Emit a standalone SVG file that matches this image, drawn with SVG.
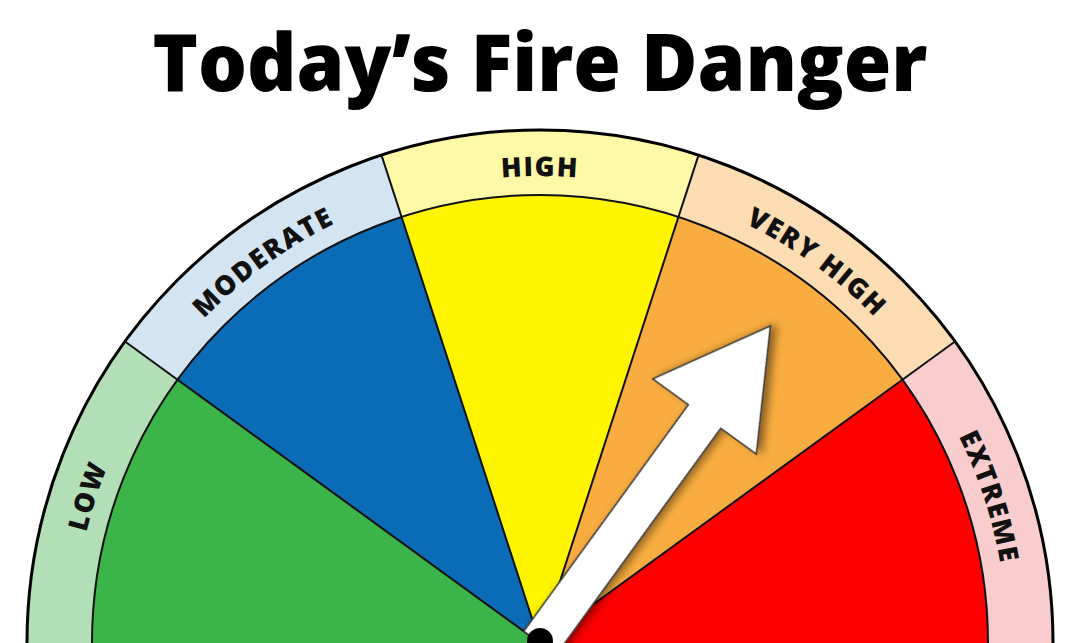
<svg xmlns="http://www.w3.org/2000/svg" xmlns:xlink="http://www.w3.org/1999/xlink" width="1080" height="643" viewBox="0 0 1080 643">
  <style>
    .title { font-family: "Open Sans", "Liberation Sans", sans-serif; font-weight: 800; font-size: 80px; fill: #000; }
    .lbl { font-family: "Open Sans", "Liberation Sans", sans-serif; font-weight: 800; font-size: 27px; fill: #111; letter-spacing: 1.6px; }
    .edge { fill: none; stroke: #111; stroke-width: 2; }
    .outer { fill: none; stroke: #000; stroke-width: 3; }
  </style>
  <defs>
    <path id="lblArc" d="M 73 643 A 467 467 0 0 1 1007 643"/>
    <filter id="shadow" x="-20%" y="-20%" width="140%" height="140%">
      <feDropShadow dx="4" dy="4" stdDeviation="4" flood-color="#000" flood-opacity="0.45"/>
    </filter>
  </defs>
  <rect x="0" y="0" width="1080" height="643" fill="#fff"/>

  <text class="title" x="540" y="91" text-anchor="middle" textLength="775" lengthAdjust="spacingAndGlyphs">Today’s Fire Danger</text>

  <g id="low">
    <path d="M 27 643 A 513 513 0 0 1 124.97 341.47 L 177.56 379.67 A 448 448 0 0 0 92 643 Z" fill="#b3dfb6"/>
    <path d="M 540 643 L 92 643 A 448 448 0 0 1 177.56 379.67 Z" fill="#3bb44a"/>
    <text class="lbl"><textPath xlink:href="#lblArc" href="#lblArc" startOffset="10%" text-anchor="middle">LOW</textPath></text>
  </g>
  <g id="moderate">
    <path d="M 124.97 341.47 A 513 513 0 0 1 381.47 155.11 L 401.56 216.93 A 448 448 0 0 0 177.56 379.67 Z" fill="#d3e4f3"/>
    <path d="M 540 643 L 177.56 379.67 A 448 448 0 0 1 401.56 216.93 Z" fill="#0a6bb6"/>
    <text class="lbl"><textPath xlink:href="#lblArc" href="#lblArc" startOffset="30%" text-anchor="middle">MODERATE</textPath></text>
  </g>
  <g id="high">
    <path d="M 381.47 155.11 A 513 513 0 0 1 698.53 155.11 L 678.44 216.93 A 448 448 0 0 0 401.56 216.93 Z" fill="#fdf9a6"/>
    <path d="M 540 643 L 401.56 216.93 A 448 448 0 0 1 678.44 216.93 Z" fill="#fff500"/>
    <text class="lbl"><textPath xlink:href="#lblArc" href="#lblArc" startOffset="50%" text-anchor="middle">HIGH</textPath></text>
  </g>
  <g id="very-high">
    <path d="M 698.53 155.11 A 513 513 0 0 1 955.03 341.47 L 902.44 379.67 A 448 448 0 0 0 678.44 216.93 Z" fill="#fcdcb3"/>
    <path d="M 540 643 L 678.44 216.93 A 448 448 0 0 1 902.44 379.67 Z" fill="#f9ad40"/>
    <text class="lbl"><textPath xlink:href="#lblArc" href="#lblArc" startOffset="70%" text-anchor="middle">VERY HIGH</textPath></text>
  </g>
  <g id="extreme">
    <path d="M 955.03 341.47 A 513 513 0 0 1 1053 643 L 988 643 A 448 448 0 0 0 902.44 379.67 Z" fill="#f9cdcd"/>
    <path d="M 540 643 L 902.44 379.67 A 448 448 0 0 1 988 643 Z" fill="#fe0000"/>
    <text class="lbl"><textPath xlink:href="#lblArc" href="#lblArc" startOffset="90%" text-anchor="middle">EXTREME</textPath></text>
  </g>

  <g id="connectors">
    <path class="edge" d="M 92 643 A 448 448 0 0 1 988 643"/>
    <path class="outer" d="M 27 643 A 513 513 0 0 1 1053 643"/>
    <line class="edge" x1="540" y1="643" x2="124.97" y2="341.47"/>
    <line class="edge" x1="540" y1="643" x2="381.47" y2="155.11"/>
    <line class="edge" x1="540" y1="643" x2="698.53" y2="155.11"/>
    <line class="edge" x1="540" y1="643" x2="955.03" y2="341.47"/>
  </g>

  <g id="pointer">
    <polygon transform="rotate(-54 540 643) translate(540 643)" points="0,-20 280,-20 280,-64 392,0 280,64 280,20 0,20" fill="#fff" stroke="#333" stroke-width="1.5" stroke-linejoin="miter" filter="url(#shadow)"/>
    <circle cx="540" cy="641" r="13" fill="#000"/>
  </g>
</svg>
